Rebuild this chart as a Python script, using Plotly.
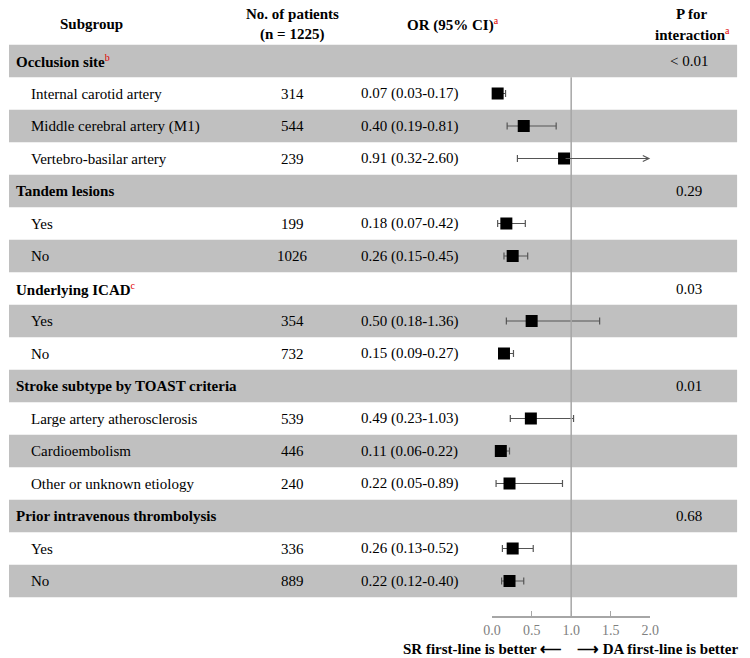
import plotly.graph_objects as go

# ---- data ----
groups = ["Occlusion site", "Tandem lesions", "Underlying ICAD",
          "Stroke subtype by TOAST criteria", "Prior intravenous thrombolysis"]
group_notes = ["b", "", "c", "", ""]
p_interaction = ["< 0.01", "0.29", "0.03", "0.01", "0.68"]

sub_labels = [
    ["Internal carotid artery", "Middle cerebral artery (M1)", "Vertebro-basilar artery"],
    ["Yes", "No"],
    ["Yes", "No"],
    ["Large artery atherosclerosis", "Cardioembolism", "Other or unknown etiology"],
    ["Yes", "No"],
]
n_patients = [[314, 544, 239], [199, 1026], [354, 732], [539, 446, 240], [336, 889]]
or_est = [[0.07, 0.40, 0.91], [0.18, 0.26], [0.50, 0.15], [0.49, 0.11, 0.22], [0.26, 0.22]]
ci_lo = [[0.03, 0.19, 0.32], [0.07, 0.15], [0.18, 0.09], [0.23, 0.06, 0.05], [0.13, 0.12]]
ci_hi = [[0.17, 0.81, 2.60], [0.42, 0.45], [1.36, 0.27], [1.03, 0.22, 0.89], [0.52, 0.40]]

x_ticks = [0.0, 0.5, 1.0, 1.5, 2.0]
XMAX = 2.0

# ---- layout (pixel positions on the page) ----
FW, FH = 750, 658
ROW_H = 32.5
FIRST_ROW = 61
PLOT_BOTTOM = 616
GRAY = "#c0c0c0"
LINE_GRAY = "#a6a6a6"
FONT = "Liberation Serif, Times New Roman, serif"
FS = 15


def fx(p):
    return p / FW


def fy(p):
    # page pixel -> paper fraction (paper bottom = axis line)
    return (PLOT_BOTTOM - p) / PLOT_BOTTOM


def px_row(p):
    return 1 + (p - FIRST_ROW) / ROW_H


def sup(letter):
    return f"<sup><span style='color:#e00000;font-size:10px'>{letter}</span></sup>"


# flatten rows
rows = []
for g, note, p, labs, ns, ors, los, his in zip(groups, group_notes, p_interaction,
                                                sub_labels, n_patients, or_est, ci_lo, ci_hi):
    rows.append(dict(kind="group", label=g, note=note, p=p))
    for lab, n, o, lo, hi in zip(labs, ns, ors, los, his):
        rows.append(dict(kind="sub", label=lab, n=n, o=o, lo=lo, hi=hi))

fig = go.Figure()
shapes = []
annotations = []


def cell(x, y, text, anchor="left", yref="y"):
    return dict(x=fx(x), y=y, xref="paper", yref=yref, xanchor=anchor, yanchor="middle",
                text=text, showarrow=False, font=dict(size=FS), borderpad=0)


pt_y, pt_x, err_plus, err_minus, clipped = [], [], [], [], []
for i, r in enumerate(rows):
    y = i + 1
    if y % 2 == 1:
        shapes.append(dict(type="rect", xref="paper", yref="y", x0=0, x1=fx(746),
                           y0=y - 0.5, y1=y + 0.5, fillcolor=GRAY, line_width=0,
                           layer="below"))
    if r["kind"] == "group":
        annotations.append(cell(6, y, f"<b>{r['label']}</b>" + (sup(r["note"]) if r["note"] else "")))
        annotations.append(cell(697, y, r["p"], "center"))
    else:
        annotations.append(cell(22, y, r["label"]))
        annotations.append(cell(290, y, str(r["n"]), "center"))
        annotations.append(cell(360, y, f"{r['o']:.2f} ({r['lo']:.2f}-{r['hi']:.2f})"))
        pt_y.append(y)
        pt_x.append(r["o"])
        err_minus.append(r["o"] - r["lo"])
        if r["hi"] > XMAX:
            err_plus.append(0)
            clipped.append((r["o"], y))
        else:
            err_plus.append(r["hi"] - r["o"])

# reference line at OR = 1
shapes.append(dict(type="line", xref="x", yref="y", x0=1, x1=1, y0=1.5,
                   y1=px_row(PLOT_BOTTOM), line=dict(color=LINE_GRAY, width=1.5)))

# arrows for CIs running past the axis
for o, y in clipped:
    annotations.append(dict(x=XMAX, y=y, ax=o, ay=y, xref="x", yref="y", axref="x", ayref="y",
                            showarrow=True, arrowhead=5, arrowsize=1, arrowwidth=1.2,
                            arrowcolor="#555555", standoff=0, text=""))

fig.add_trace(go.Scatter(
    x=pt_x, y=pt_y, mode="markers",
    marker=dict(symbol="square", size=12, color="black"),
    error_x=dict(type="data", symmetric=False, array=err_plus, arrayminus=err_minus,
                 color="#555555", thickness=1.2, width=3.5),
    showlegend=False, hoverinfo="skip", cliponaxis=False,
))

# column headers
annotations += [
    cell(85, px_row(24), "<b>Subgroup</b>", "center"),
    cell(290, px_row(14), "<b>No. of patients</b>", "center"),
    cell(290, px_row(34), "<b>(n = 1225)</b>", "center"),
    cell(455, px_row(24), "<b>OR (95% CI)</b>" + sup("a"), "center"),
    cell(700, px_row(14), "<b>P for</b>", "center"),
    cell(700, px_row(34), "<b>interaction</b>" + sup("a"), "center"),
]

# direction labels under the axis
annotations += [
    cell(568, fy(649), "<b>SR first-line is better ⟵</b>", "right", "paper"),
    cell(581, fy(649), "<b>⟶ DA first-line is better</b>", "left", "paper"),
]

fig.update_layout(
    width=FW, height=FH,
    margin=dict(l=0, r=0, t=0, b=FH - PLOT_BOTTOM),
    plot_bgcolor="white", paper_bgcolor="white",
    font=dict(family=FONT, size=FS, color="black"),
    shapes=shapes, annotations=annotations,
    xaxis=dict(domain=[fx(495), fx(657)], range=[0, XMAX], tickvals=x_ticks,
               tickformat=".1f", showgrid=False, zeroline=False, showline=True,
               linecolor=LINE_GRAY, linewidth=1.5, ticks="inside", ticklen=5,
               tickcolor=LINE_GRAY, tickfont=dict(size=14, color="#808080"),
               fixedrange=True),
    yaxis=dict(range=[px_row(PLOT_BOTTOM), px_row(0)], visible=False, fixedrange=True),
)

# drop the default body margin so the figure fills the window exactly
fig.write_html("out.html", config={"displayModeBar": False},
               post_script="document.body.style.margin = '0';")
